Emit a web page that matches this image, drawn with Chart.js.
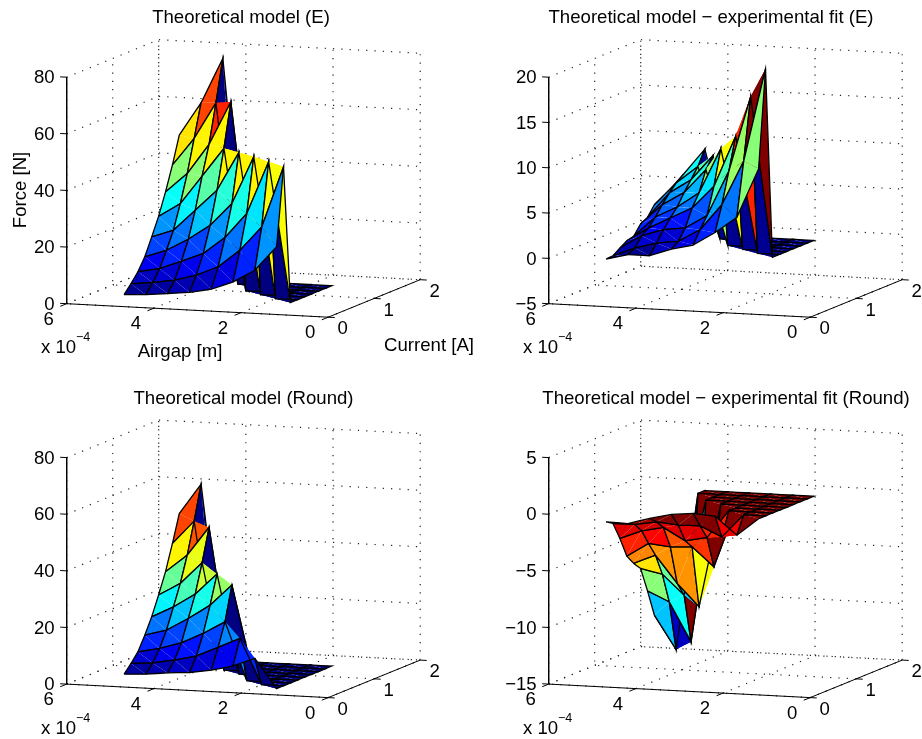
<!DOCTYPE html>
<html>
<head>
<meta charset="utf-8">
<title>Force surfaces</title>
<script src="https://cdn.jsdelivr.net/npm/chart.js@4"></script>
<style>
  html, body { margin: 0; padding: 0; background: #fff; }
  #wrap { position: relative; width: 922px; height: 739px; overflow: hidden; }
  canvas { position: absolute; }
</style>
</head>
<body>
<div id="wrap">
  <canvas id="panelE" width="480" height="370" style="left:0;top:0"></canvas>
  <canvas id="panelFitE" width="442" height="370" style="left:480px;top:0"></canvas>
  <canvas id="panelRound" width="480" height="369" style="left:0;top:370px"></canvas>
  <canvas id="panelFitRound" width="442" height="369" style="left:480px;top:370px"></canvas>
</div>
<script>
// grid of the surfaces: airgap in units of 1e-4 m, current in A
const airgap = [5, 4.5, 4, 3.5, 3, 2.5, 2, 1.5];
const current = [0.3, 0.45, 0.6, 0.75, 0.9, 1.05, 1.2, 1.35, 1.5];

// one row per current, one column per airgap
const forceE = [
  [2.0, 2.4, 3.2, 4.0, 5.5, 8.5, 13.0, 21.7],
  [4.9, 5.7, 6.9, 9.1, 12.4, 18.7, 27.3, 48.9],
  [8.1, 9.6, 12.6, 15.7, 21.8, 30.7, 49.3, 0],
  [12.4, 15.1, 19.4, 24.7, 32.8, 49.7, 0, 0],
  [18.4, 21.2, 28.6, 36.1, 49.8, 0, 0, 0],
  [24.7, 29.6, 39.7, 49.9, 0, 0, 0, 0],
  [32.3, 39.2, 49.9, 65.3, 0, 0, 0, 0],
  [40.8, 50.6, 63.6, 0, 0, 0, 0, 0],
  [50.4, 62.2, 78.3, 0, 0, 0, 0, 0]
];
const fitErrorE = [
  [-0.44, 0.16, 0.17, 1.03, 1.6, 3.1, 4.9, 10.4],
  [-0.39, 0.59, 1.26, 1.57, 2.98, 5.86, 10.8, 21.1],
  [0.15, 1.63, 2.42, 2.74, 4.22, 9.23, 17.6, 0],
  [0.65, 2.17, 3.4, 4.63, 7.14, 12.8, 0, 0],
  [0.82, 3.08, 4.31, 5.98, 11.0, 0, 0, 0],
  [1.87, 4.13, 5.6, 8.24, 0, 0, 0, 0],
  [2.29, 5.1, 6.69, 9.47, 0, 0, 0, 0],
  [3.38, 5.9, 7.85, 0, 0, 0, 0, 0],
  [3.7, 6.5, 9.46, 0, 0, 0, 0, 0]
];
const forceRound = [
  [2.3, 2.7, 3.6, 4.1, 5.3, 7.2, 10.3, 0],
  [5.1, 5.7, 7.1, 8.9, 12.4, 15.9, 0, 0],
  [8.2, 9.8, 12.2, 15.9, 20.4, 0, 0, 0],
  [13.1, 15.3, 19.8, 24.9, 32.4, 0, 0, 0],
  [18.6, 22.5, 27.4, 34.9, 0, 0, 0, 0],
  [25.3, 29.8, 37.5, 0, 0, 0, 0, 0],
  [32.5, 38.8, 49.0, 0, 0, 0, 0, 0],
  [41.5, 49.8, 0, 0, 0, 0, 0, 0],
  [51.1, 61.9, 0, 0, 0, 0, 0, 0]
];
const fitErrorRound = [
  [-0.97, -1.02, -0.47, -0.02, 0.17, 0.03, -1.55, 0],
  [-1.36, -1.35, -1.02, -1.21, -1.17, -2.05, 0, 0],
  [-2.93, -2.16, -1.76, -2.84, -2.45, 0, 0, 0],
  [-4.74, -3.52, -3.72, -3.62, -5.29, 0, 0, 0],
  [-5.63, -4.8, -7.2, -9.16, 0, 0, 0, 0],
  [-6.33, -6.73, -8.48, 0, 0, 0, 0, 0],
  [-8.55, -9.42, -12.86, 0, 0, 0, 0, 0],
  [-10.95, -13.88, 0, 0, 0, 0, 0, 0],
  [-11.93, -13.0, 0, 0, 0, 0, 0, 0]
];

const airgapTicks = [6, 4, 2, 0];
const currentTicks = [0, 1, 2];
const forceTicks = [0, 20, 40, 60, 80];
const fitTicksE = [-5, 0, 5, 10, 15, 20];
const fitTicksRound = [-15, -10, -5, 0, 5];

const LABEL_FONT = '18.6px "Liberation Sans", Arial, sans-serif';
const EXP_FONT = '12.5px "Liberation Sans", Arial, sans-serif';

// Matlab jet, 64 steps
function jet(t) {
  t = Math.floor(Math.min(Math.max(t, 0), 0.9999) * 64) / 63;
  const c = v => Math.round(255 * Math.min(Math.max(v, 0), 1));
  const r = c(Math.min(4 * t - 1.5, -4 * t + 4.5));
  const g = c(Math.min(4 * t - 0.5, -4 * t + 3.5));
  const b = c(Math.min(4 * t + 0.5, -4 * t + 2.5));
  return `rgb(${r},${g},${b})`;
}

function minus(v) {
  return String(v).replace("-", "\u2212");
}

// text in page coordinates, drawn after the datasets
const textPlugin = {
  id: "panelText",
  afterDraw(chart, args, opts) {
    const { ctx, scales } = chart;
    opts.items.forEach(t => {
      ctx.save();
      ctx.font = t.font || LABEL_FONT;
      ctx.fillStyle = "#000";
      ctx.textAlign = t.align || "center";
      ctx.textBaseline = "middle";
      ctx.translate(scales.x.getPixelForValue(t.x), scales.y.getPixelForValue(t.y));
      if (t.rotate) ctx.rotate(t.rotate);
      ctx.fillText(t.text, 0, 0);
      ctx.restore();
    });
  }
};

function makePanel(id, cfg) {
  const canvas = document.getElementById(id);
  const { left, top, values, zTicks } = cfg;
  const zMin = zTicks[0], zMax = zTicks[zTicks.length - 1];
  const flat = values.flat();
  const cMin = Math.min(...flat), cMax = Math.max(...flat);

  // axes box of the 3D view, orthographic so it is just three vectors
  const ox = left + 66.7, oy = top + 303.7;
  const project = (gap, amp, z) => {
    const u = 1 - gap / 6, v = amp / 2, w = (z - zMin) / (zMax - zMin);
    return { x: ox + 261.5 * u + 92 * v, y: oy + 13.5 * u - 37.5 * v - 226.5 * w };
  };

  const drawn = [];
  const line = (pts, dotted) => drawn.push({
    data: pts, showLine: true, pointRadius: 0, fill: false,
    borderColor: dotted ? "#222" : "#000", borderWidth: dotted ? 1.2 : 1,
    borderDash: dotted ? [1.2, 7.1] : []
  });

  // dotted grid on the two back walls and the floor
  zTicks.forEach(z => line([project(6, 0, z), project(6, 2, z), project(0, 2, z)], true));
  airgapTicks.forEach(g => line([project(g, 0, zMin), project(g, 2, zMin), project(g, 2, zMax)], true));
  currentTicks.forEach(a => line([project(0, a, zMin), project(6, a, zMin), project(6, a, zMax)], true));

  // solid axes and their ticks
  line([project(6, 0, zMax), project(6, 0, zMin), project(0, 0, zMin), project(0, 2, zMin)]);
  zTicks.forEach(z => line([project(6, 0, z), project(6.15, 0, z)]));
  airgapTicks.forEach(g => line([project(g, 0, zMin), project(g, -0.14, zMin)]));
  currentTicks.forEach(a => line([project(0, a, zMin), project(-0.15, a, zMin)]));

  // facets far to near, flat colour from the smallest airgap / current corner.
  // each quad is filled as two triangles split along the same diagonal as the reference
  for (let j = current.length - 2; j >= 0; j--) {
    for (let i = 0; i < airgap.length - 1; i++) {
      const corner = (a, b) => project(airgap[a], current[b], values[b][a]);
      const p00 = corner(i, j), p10 = corner(i + 1, j), p11 = corner(i + 1, j + 1), p01 = corner(i, j + 1);
      const color = jet((values[j][i + 1] - cMin) / (cMax - cMin));
      [[p00, p10, p01, p00], [p10, p11, p01, p10]].forEach(tri => drawn.push({
        data: tri, showLine: true, pointRadius: 0, tension: 0.0001,
        fill: "shape", backgroundColor: color, borderColor: "transparent", borderWidth: 0
      }));
      drawn.push({
        data: [p00, p10, p11, p01, p00], showLine: true, pointRadius: 0, tension: 0.0001,
        fill: false, borderColor: "#000", borderWidth: 1.3
      });
    }
  }

  // tick labels
  const items = [{ text: cfg.title, x: cfg.titleX, y: top + 18 }];
  zTicks.forEach(z => {
    const p = project(6, 0, z);
    items.push({ text: minus(z), x: p.x - 12, y: p.y + 1, align: "right" });
  });
  airgapTicks.forEach(g => {
    const p = project(g, 0, zMin);
    items.push({ text: String(g), x: p.x - 18, y: p.y + 16 });
  });
  currentTicks.forEach(a => {
    const p = project(0, a, zMin);
    items.push({ text: String(a), x: p.x + 14.5, y: p.y + 12 });
  });
  items.push({ text: "x 10", x: left + 41, y: top + 348, align: "left" });
  items.push({ text: "\u22124", x: left + 76, y: top + 338, align: "left", font: EXP_FONT });
  (cfg.extraText || []).forEach(t => items.push(t));

  return new Chart(canvas, {
    type: "scatter",
    data: { datasets: drawn.reverse() },
    plugins: [textPlugin],
    options: {
      responsive: false,
      animation: false,
      events: [],
      clip: false,
      layout: { autoPadding: false, padding: 0 },
      scales: {
        x: { display: false, min: canvas.offsetLeft, max: canvas.offsetLeft + canvas.width },
        y: { display: false, reverse: true, min: canvas.offsetTop, max: canvas.offsetTop + canvas.height }
      },
      plugins: {
        legend: { display: false },
        tooltip: { enabled: false },
        panelText: { items }
      }
    }
  });
}

makePanel("panelE", {
  left: 0, top: 0, values: forceE, zTicks: forceTicks,
  title: "Theoretical model (E)", titleX: 241,
  extraText: [
    { text: "Airgap [m]", x: 180, y: 352 },
    { text: "Current [A]", x: 429, y: 346 },
    { text: "Force [N]", x: 21, y: 190, rotate: -Math.PI / 2 }
  ]
});
makePanel("panelFitE", {
  left: 482, top: 0, values: fitErrorE, zTicks: fitTicksE,
  title: "Theoretical model \u2212 experimental fit (E)", titleX: 711
});
makePanel("panelRound", {
  left: 0, top: 380.4, values: forceRound, zTicks: forceTicks,
  title: "Theoretical model (Round)", titleX: 243.5
});
makePanel("panelFitRound", {
  left: 482, top: 380.4, values: fitErrorRound, zTicks: fitTicksRound,
  title: "Theoretical model \u2212 experimental fit (Round)", titleX: 726
});
</script>
</body>
</html>
